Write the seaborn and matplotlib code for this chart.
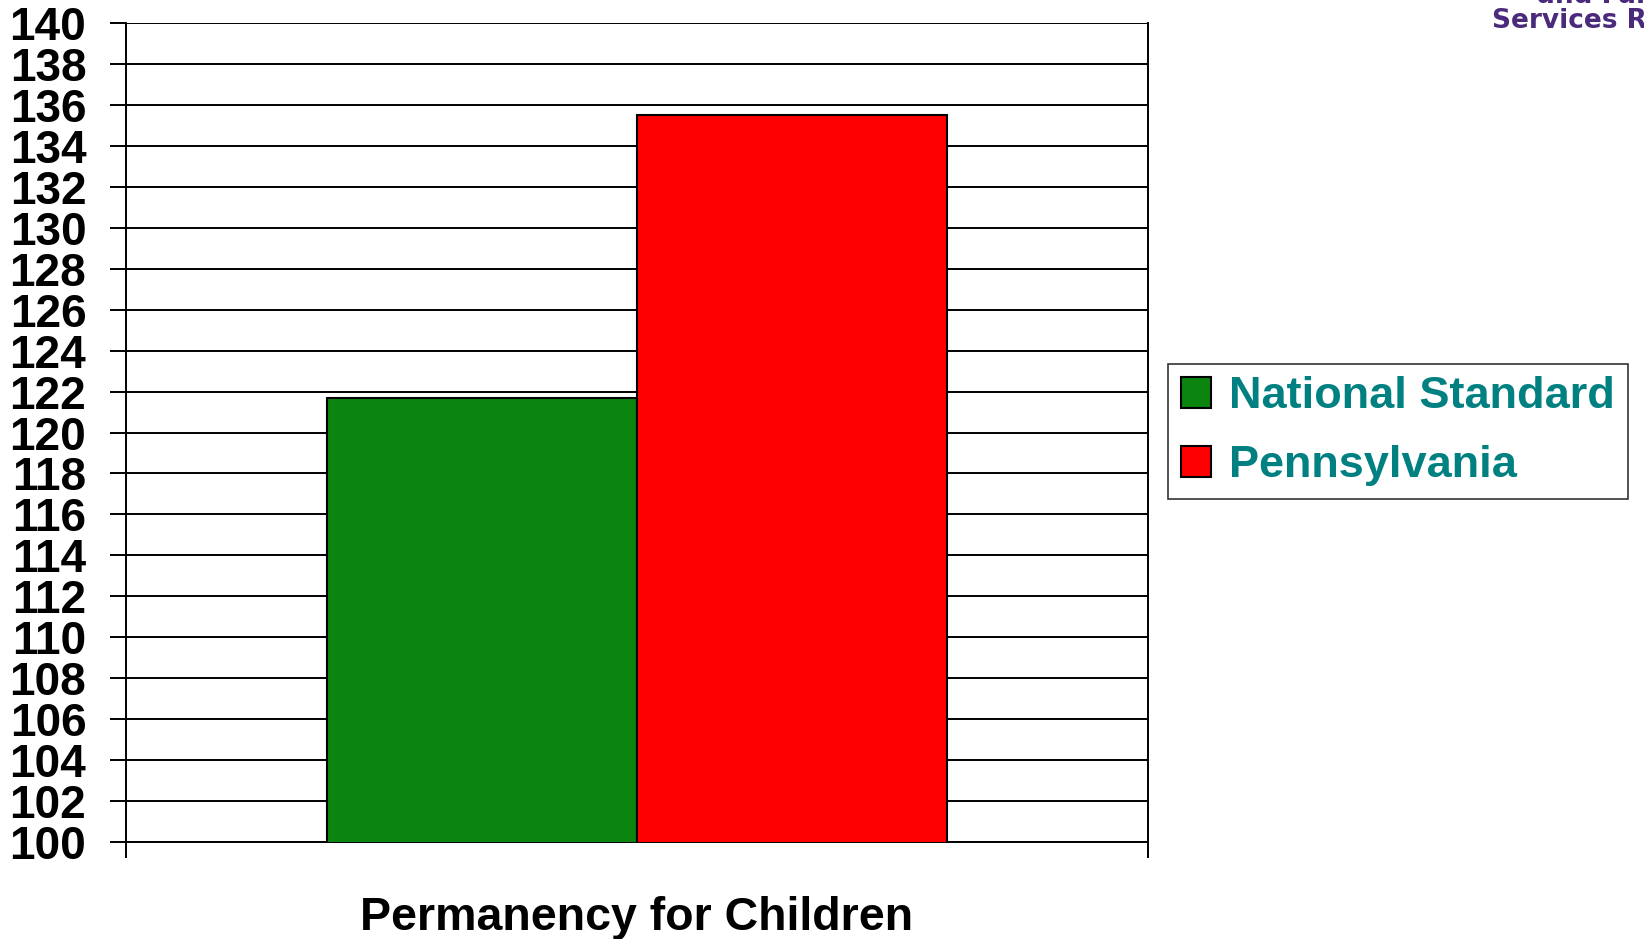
import pandas as pd
import seaborn as sns
import matplotlib.pyplot as plt

# values
category = ["Permanency for Children"]
series = ["National Standard", "Pennsylvania"]
values = [121.7, 135.5]
colors = ["#0b850f", "#ff0000"]
y_ticks = list(range(100, 141, 2))

df = pd.DataFrame({
    "category": category * len(series),
    "series": series,
    "value": values,
})

sns.set_style("white")
plt.rcParams["font.family"] = ["Liberation Sans", "DejaVu Sans"]
plt.rcParams["text.color"] = "black"
plt.rcParams["axes.labelcolor"] = "black"
plt.rcParams["ytick.color"] = "black"
plt.rcParams["xtick.color"] = "black"

fig = plt.figure(figsize=(16.44, 9.39), dpi=100)
ax = fig.add_axes([0.0766, 0.1033, 0.6217, 0.8722])

sns.barplot(data=df, x="category", y="value", hue="series", palette=colors,
            width=0.607, edgecolor="black", linewidth=1.5, saturation=1,
            ax=ax, legend=True, zorder=3)

ax.set_ylim(100, 140)
ax.set_xlim(-0.5, 0.5)
ax.set_yticks(y_ticks)
ax.set_yticklabels([str(t) for t in y_ticks], fontsize=33, fontweight="bold")
ax.tick_params(axis="y", direction="out", length=11.5, width=1.4, pad=17, color="black", left=True)
ax.set_xticks([-0.5, 0.5])
ax.set_xticklabels(["", ""])
ax.tick_params(axis="x", direction="out", length=11.5, width=1.4, color="black", bottom=True)
ax.yaxis.grid(True, color="black", linewidth=1.4, zorder=0)
ax.set_axisbelow(True)

for side in ["left", "right"]:
    ax.spines[side].set_visible(True)
    ax.spines[side].set_color("black")
    ax.spines[side].set_linewidth(1.4)
ax.spines["top"].set_visible(False)
ax.spines["bottom"].set_color("black")
ax.spines["bottom"].set_linewidth(1.4)

ax.set_ylabel("")
ax.set_xlabel("Permanency for Children", fontsize=33.5, fontweight="bold", color="black")
ax.xaxis.set_label_coords(0.5, -0.093)
ax.xaxis.label.set_va("center")

handles, labels = ax.get_legend_handles_labels()
ax.legend_.remove()
leg = fig.legend(handles, labels, loc="center left", bbox_to_anchor=(0.7105, 0.5405),
                 fontsize=32.5, frameon=True, fancybox=False, edgecolor="black",
                 handlelength=0.68, handleheight=0.68, handletextpad=0.4,
                 labelspacing=0.62, borderpad=0.28, borderaxespad=0)
leg.get_frame().set_linewidth(1.2)
for txt in leg.get_texts():
    txt.set_color("#008080")
    txt.set_fontweight("bold")

# logo fragment in the top right corner, cut off by the figure edge
fig.text(0.9075, 0.978, "Services Review", fontsize=19, fontweight="bold",
         color="#4a2a7a", va="center", ha="left",
         family=["Liberation Sans Narrow", "DejaVu Sans"])
fig.text(0.935, 1.004, "and Family", fontsize=19, fontweight="bold",
         color="#4a2a7a", va="center", ha="left",
         family=["Liberation Sans Narrow", "DejaVu Sans"])

fig.savefig("out.png", dpi=100)
